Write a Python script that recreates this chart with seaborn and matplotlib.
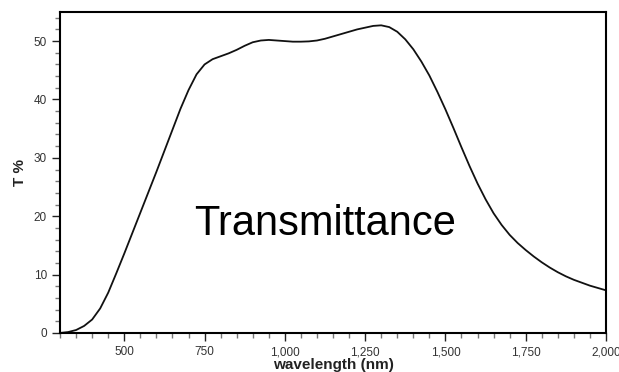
import matplotlib
matplotlib.use("Agg")
import matplotlib.pyplot as plt
from matplotlib.ticker import MultipleLocator, FuncFormatter
import pandas as pd
import seaborn as sns

# Transmittance spectrum (wavelength in nm, T in %)
wavelength = [300, 325, 350, 375, 400, 425, 450, 475, 500, 525, 550, 575,
              600, 625, 650, 675, 700, 725, 750, 775, 800, 825, 850, 875,
              900, 925, 950, 975, 1000, 1025, 1050, 1075, 1100, 1125, 1150,
              1175, 1200, 1225, 1250, 1275, 1300, 1325, 1350, 1375, 1400,
              1425, 1450, 1475, 1500, 1525, 1550, 1575, 1600, 1625, 1650,
              1675, 1700, 1725, 1750, 1775, 1800, 1825, 1850, 1875, 1900,
              1925, 1950, 1975, 2000]
transmittance = [0.0, 0.15, 0.5, 1.2, 2.3, 4.2, 6.9, 10.2, 13.6, 17.1,
                 20.6, 24.1, 27.6, 31.2, 34.8, 38.4, 41.6, 44.3, 46.0, 46.9,
                 47.4, 47.9, 48.5, 49.2, 49.8, 50.1, 50.2, 50.1, 50.0, 49.9,
                 49.9, 49.95, 50.1, 50.4, 50.8, 51.2, 51.6, 52.0, 52.3, 52.6,
                 52.7, 52.4, 51.6, 50.3, 48.6, 46.5, 44.1, 41.3, 38.3, 35.1,
                 31.8, 28.6, 25.6, 22.9, 20.5, 18.5, 16.8, 15.4, 14.2, 13.1,
                 12.1, 11.2, 10.4, 9.7, 9.1, 8.6, 8.1, 7.7, 7.3]

x_ticks = [500, 750, 1000, 1250, 1500, 1750, 2000]
y_ticks = [0, 10, 20, 30, 40, 50]

sns.set_theme(style="white")
plt.rcParams["font.family"] = ["Liberation Sans", "DejaVu Sans"]

df = pd.DataFrame({"wavelength": wavelength, "T": transmittance})

fig = plt.figure(figsize=(6.19, 3.72), dpi=100)
ax = fig.add_axes([0.097, 0.105, 0.882, 0.863])

sns.lineplot(data=df, x="wavelength", y="T", ax=ax, color="#111111",
             linewidth=1.3)

ax.set_xlim(300, 2000)
ax.set_ylim(0, 55)
ax.set_xticks(x_ticks)
ax.set_yticks(y_ticks)
ax.xaxis.set_minor_locator(MultipleLocator(50))
ax.yaxis.set_minor_locator(MultipleLocator(2))
ax.xaxis.set_major_formatter(FuncFormatter(lambda v, p: f"{int(v):,}"))

ax.tick_params(axis="both", which="major", direction="out", length=6,
               width=1.0, color="#222222", labelsize=8.5,
               labelcolor="#333333", pad=3.5,
               bottom=True, left=True, top=False, right=False)
ax.tick_params(axis="both", which="minor", direction="out", length=3.5,
               width=1.0, color="#777777",
               bottom=True, left=True, top=False, right=False)

for s in ax.spines.values():
    s.set_visible(True)
    s.set_color("#000000")
    s.set_linewidth(1.5)

ax.set_xlabel("wavelength (nm)", fontsize=11, fontweight="bold",
              color="#222222", labelpad=0)
ax.set_ylabel("T %", fontsize=11, fontweight="bold", color="#222222",
              labelpad=5)

ax.text(1126, 16.8, "Transmittance", fontsize=30, ha="center",
        va="baseline", color="#000000")

fig.savefig("out.png", dpi=100)
